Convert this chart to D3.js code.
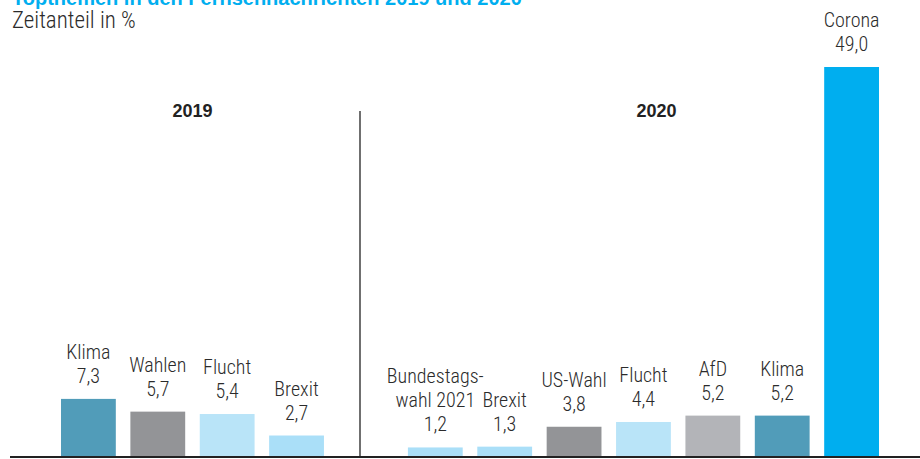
<!DOCTYPE html>
<html>
<head>
<meta charset="utf-8">
<script src="https://cdn.jsdelivr.net/npm/d3@7"></script>
<style>
  body { margin: 0; background: #fff; }
  svg text { font-family: "Liberation Sans Narrow", "Roboto Condensed", Roboto, "Liberation Sans", sans-serif; font-weight: 300; fill: #2b2b2b; }
</style>
</head>
<body>
<svg id="chart" width="920" height="459"></svg>
<script>
// slots, "gap" is the empty slot between the two years
var slots = ["k19", "w19", "f19", "b19", "gap", "bt20", "b20", "us20", "f20", "afd20", "k20", "c20"];
var names = [["Klima"], ["Wahlen"], ["Flucht"], ["Brexit"], null,
  ["Bundestags-", "wahl 2021"], ["Brexit"], ["US-Wahl"], ["Flucht"], ["AfD"], ["Klima"], ["Corona"]];
var values = [7.3, 5.7, 5.4, 2.7, null, 1.2, 1.3, 3.8, 4.4, 5.2, 5.2, 49.0];
var colors = ["#519cb9", "#939497", "#b9e4f8", "#aadff8", null,
  "#aadff8", "#aadff8", "#939497", "#b9e4f8", "#b3b4b8", "#519cb9", "#00aeef"];
var years = ["2019", "2020"];

var svg = d3.select("#chart");
var base = 457;

var x = d3.scaleBand().domain(slots).range([61, 879]).paddingInner(0.21).paddingOuter(0);
var y = d3.scaleLinear().domain([0, 49]).range([base, 67]);

var fmt = function (v) { return v.toFixed(1).replace(".", ","); };

// title (cut off at top in the original)
svg.append("text")
  .attr("x", 12).attr("y", 5)
  .style("font-family", "'Liberation Sans', Arial, sans-serif")
  .style("font-weight", "bold").style("font-size", "20px")
  .style("fill", "#00aeef")
  .text("Topthemen in den Fernsehnachrichten 2019 und 2020");

svg.append("text")
  .attr("x", 12).attr("y", 28)
  .style("font-size", "23px")
  .text("Zeitanteil in %");

var data = [];
for (var i = 0; i < slots.length; i++) {
  if (values[i] !== null) {
    data.push({ id: slots[i], name: names[i], value: values[i], color: colors[i] });
  }
}

svg.selectAll("rect.bar")
  .data(data)
  .enter().append("rect")
  .attr("class", "bar")
  .attr("x", function (d) { return x(d.id); })
  .attr("width", x.bandwidth())
  .attr("y", function (d) { return y(d.value); })
  .attr("height", function (d) { return base - y(d.value); })
  .attr("fill", function (d) { return d.color; });

var lab = svg.selectAll("g.lab")
  .data(data)
  .enter().append("g")
  .attr("class", "lab")
  .attr("transform", function (d) {
    return "translate(" + (x(d.id) + x.bandwidth() / 2) + "," + (y(d.value) - 16) + ")";
  });

lab.each(function (d) {
  var g = d3.select(this);
  var lines = d.name.concat([fmt(d.value)]);
  var n = lines.length;
  lines.forEach(function (t, j) {
    g.append("text")
      .attr("text-anchor", "middle")
      .attr("y", -(n - 1 - j) * 24)
      .style("font-size", "20px")
      .text(t);
  });
});

// year headings
var yearX = [
  (x("k19") + x("b19") + x.bandwidth()) / 2,
  x("f20") + x.bandwidth() * 0.74
];
svg.selectAll("text.year")
  .data(years)
  .enter().append("text")
  .attr("class", "year")
  .attr("x", function (d, i) { return yearX[i]; })
  .attr("y", 117)
  .attr("text-anchor", "middle")
  .style("font-family", "'Liberation Sans', Arial, sans-serif")
  .style("font-weight", "bold").style("font-size", "18px")
  .style("fill", "#222")
  .text(function (d) { return d; });

// divider
svg.append("line")
  .attr("x1", 360).attr("x2", 360)
  .attr("y1", 111).attr("y2", base)
  .attr("stroke", "#222").attr("stroke-width", 1.3);

// baseline
svg.append("line")
  .attr("x1", 10).attr("x2", 920)
  .attr("y1", base).attr("y2", base)
  .attr("stroke", "#222").attr("stroke-width", 2);
</script>
</body>
</html>
